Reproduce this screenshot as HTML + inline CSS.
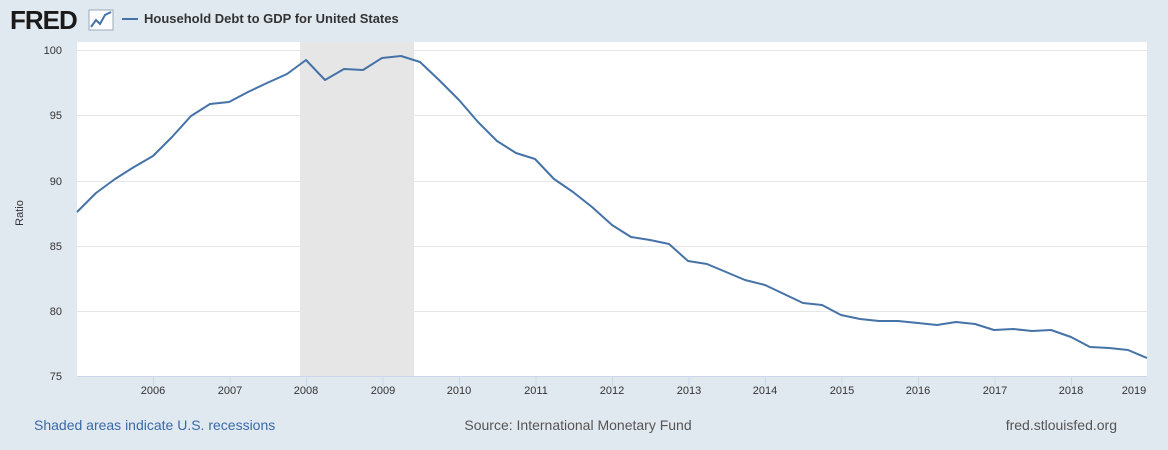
<!DOCTYPE html>
<html><head><meta charset="utf-8"><style>
html,body{margin:0;padding:0;width:1168px;height:450px;background:#e1e9f0;overflow:hidden;font-family:"Liberation Sans",Arial,sans-serif}
</style></head><body>
<svg width="1168" height="450" xmlns="http://www.w3.org/2000/svg" style="position:absolute;left:0;top:0">
<rect x="0" y="0" width="1168" height="450" fill="#e1e9f0"/>
<text x="10" y="29" font-size="26" font-weight="bold" fill="#1a1a1a" font-family="Liberation Sans,Arial,sans-serif" letter-spacing="-1">FRED</text>
<rect x="89" y="10" width="24" height="20" fill="#fff" stroke="#9ab" stroke-width="1"/>
<polyline points="91,27 96,20 100,24 105,15 111,12" fill="none" stroke="#4572a7" stroke-width="2"/>
<line x1="122" y1="19" x2="138" y2="19" stroke="#4572a7" stroke-width="2"/>
<text x="144" y="23" font-size="13" font-weight="bold" fill="#333">Household Debt to GDP for United States</text>
<rect x="77" y="42" width="1070" height="334" fill="#fff"/>
<rect x="300" y="42" width="114" height="334" fill="#e6e6e6"/>
<g stroke="#e6e6e6" stroke-width="1">
<line x1="77" y1="50.5" x2="1147" y2="50.5"/><line x1="77" y1="115.5" x2="1147" y2="115.5"/><line x1="77" y1="181.5" x2="1147" y2="181.5"/><line x1="77" y1="246.5" x2="1147" y2="246.5"/><line x1="77" y1="311.5" x2="1147" y2="311.5"/>
</g>
<line x1="77" y1="376.5" x2="1147" y2="376.5" stroke="#ccd6eb"/>
<g font-size="11" fill="#333" text-anchor="end">
<text x="62" y="54">100</text><text x="62" y="119">95</text><text x="62" y="185">90</text><text x="62" y="250">85</text><text x="62" y="315">80</text><text x="62" y="380">75</text>
</g>
<text transform="translate(23,213) rotate(-90)" font-size="11" fill="#333" text-anchor="middle">Ratio</text>
<g stroke="#ccd6eb"><line x1="153.5" y1="376" x2="153.5" y2="386"/><line x1="230" y1="376" x2="230" y2="386"/><line x1="306.5" y1="376" x2="306.5" y2="386"/><line x1="383" y1="376" x2="383" y2="386"/><line x1="459.5" y1="376" x2="459.5" y2="386"/><line x1="536" y1="376" x2="536" y2="386"/><line x1="612.5" y1="376" x2="612.5" y2="386"/><line x1="689" y1="376" x2="689" y2="386"/><line x1="765.5" y1="376" x2="765.5" y2="386"/><line x1="842" y1="376" x2="842" y2="386"/><line x1="918.5" y1="376" x2="918.5" y2="386"/><line x1="995" y1="376" x2="995" y2="386"/><line x1="1071.5" y1="376" x2="1071.5" y2="386"/></g>
<g font-size="11" fill="#333" text-anchor="middle">
<text x="153" y="394">2006</text><text x="230" y="394">2007</text><text x="306" y="394">2008</text><text x="383" y="394">2009</text><text x="459" y="394">2010</text><text x="536" y="394">2011</text><text x="612" y="394">2012</text><text x="689" y="394">2013</text><text x="765" y="394">2014</text><text x="842" y="394">2015</text><text x="918" y="394">2016</text><text x="995" y="394">2017</text><text x="1071" y="394">2018</text><text x="1134" y="394">2019</text>
</g>
<polyline fill="none" stroke="#4572a7" stroke-width="2" stroke-linejoin="round" points="77,212 96,193 115,179 134,167 153,156 172,137 191,116 210,104 229,102 248,92 267,83 287,74 306,60 325,80 344,69 363,70 382,58 401,56 420,62 439,80 459,100 478,122 497,141 516,153 535,159 554,179 573,192 592,207 612,225 631,237 650,240 669,244 688,261 707,264 726,272 745,280 765,285 784,294 803,303 822,305 841,315 860,319 879,321 898,321 918,323 937,325 956,322 975,324 994,330 1013,329 1032,331 1051,330 1071,337 1090,347 1109,348 1128,350 1147,358"/>
<text x="34" y="430" font-size="14" fill="#3a69a8">Shaded areas indicate U.S. recessions</text>
<text x="578" y="430" font-size="14" fill="#555" text-anchor="middle">Source: International Monetary Fund</text>
<text x="1117" y="430" font-size="14" fill="#555" text-anchor="end">fred.stlouisfed.org</text>
</svg>
</body></html>
